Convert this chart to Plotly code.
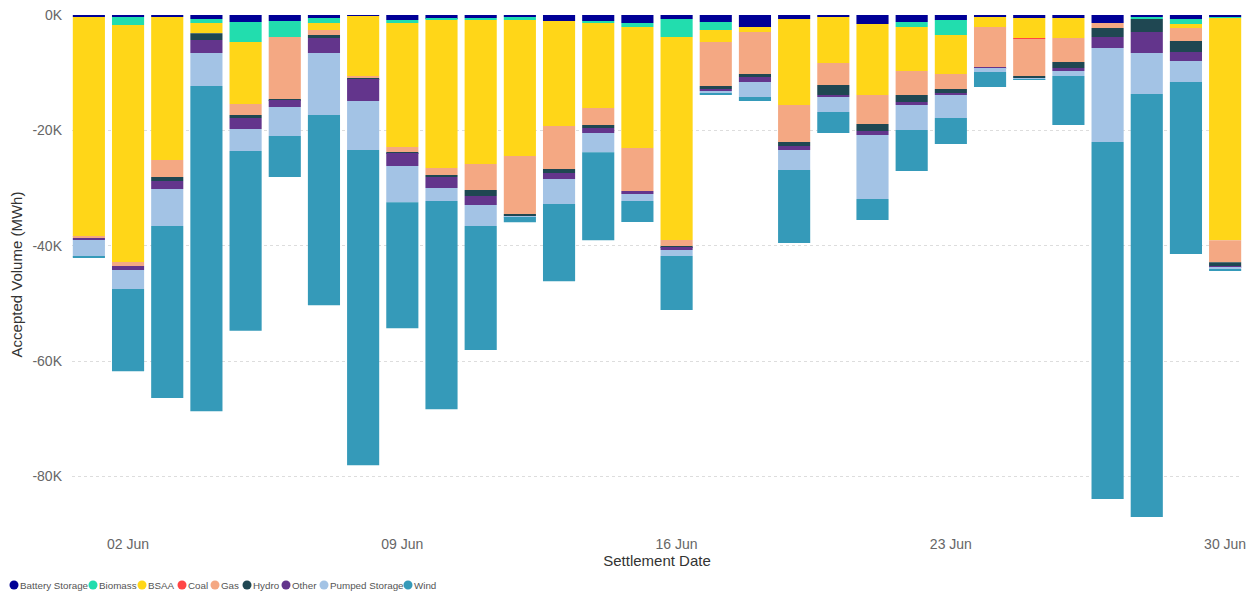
import plotly.graph_objects as go

dates = [f"2024-06-{d:02d}" for d in range(1, 31)]

battery_storage = [-350, -350, -350, -690, -1210, -1040, -520, -170, -870, -690,
                   -520, -350, -1040, -1040, -1390, -690, -1210, -2080, -690, -350,
                   -1560, -1210, -870, -350, -520, -520, -1390, -350, -690, -350]
biomass = [0, -1390, 0, -690, -3470, -2780, -870, 0, -520, -170,
           -350, -520, 0, -350, -690, -3120, -1390, 0, 0, 0,
           0, -870, -2600, 0, 0, 0, 0, -350, -870, -170]
bsaa = [-38100, -41100, -24800, -1790, -10760, 0, -1210, -10410, -21510, -25680,
        -24980, -23600, -18220, -14750, -20990, -35220, -2080, -870, -14920, -7980,
        -12320, -7630, -6770, -1740, -3470, -3470, 0, 0, -690, -38520]
coal = [0, 0, 0, 0, 0, 0, 0, 0, 0, 0,
        0, 0, 0, 0, 0, 0, 0, 0, 0, 0,
        0, 0, 0, 0, -170, 0, 0, 0, 0, 0]
gas = [-230, -690, -2950, 0, -1910, -10760, -870, -350, -870, -1210,
       -4510, -10060, -7460, -2950, -7460, -1040, -7630, -7290, -6420, -3820,
       -5030, -4160, -2600, -6940, -6420, -4160, -870, 0, -2260, -3820]
hydro = [0, 0, -700, -1160, -520, -170, -520, -170, -170, -350,
         -1040, -350, -690, -520, 0, -170, -520, -520, -690, -1740,
         -1210, -1210, -690, 0, -350, -1040, -1560, -2260, -1910, -690]
other = [-350, -700, -1390, -2260, -1910, -1210, -2600, -3820, -2260, -1910,
         -1560, 0, -1040, -870, -520, -520, -350, -870, -690, -350,
         -690, -520, -350, -170, 0, -520, -1910, -3640, -1560, -170]
pumped_storage = [-2900, -3300, -6420, -5730, -3820, -5030, -10760, -8500, -6250, -2260,
                  -3640, -170, -4340, -3300, -1210, -1040, -350, -2600, -3470, -2600,
                  -11100, -4340, -3990, -690, -170, -870, -16310, -7110, -3640, -350]
wind = [-170, -14230, -29790, -56390, -31170, -7110, -32970, -54650, -21860, -36090,
        -21510, -870, -13360, -15270, -3640, -9370, -350, -690, -12670, -3640,
        -3640, -7110, -4510, -2600, -170, -8500, -61880, -73330, -29840, -170]

series = [
    ("Battery Storage", battery_storage, "#000096"),
    ("Biomass", biomass, "#22DDAE"),
    ("BSAA", bsaa, "#FFD618"),
    ("Coal", coal, "#FF4545"),
    ("Gas", gas, "#F4A883"),
    ("Hydro", hydro, "#1F4752"),
    ("Other", other, "#63358C"),
    ("Pumped Storage", pumped_storage, "#A3C3E5"),
    ("Wind", wind, "#359AB9"),
]

tick_vals = [0, -20000, -40000, -60000, -80000]
tick_text = ["0K", "-20K", "-40K", "-60K", "-80K"]

# legend layout (pixel offsets of each swatch from the figure's left edge)
legend_px = [6, 85, 134, 174, 207, 239, 278, 316, 400]

W, H = 1247, 585
ML, MR, MT, MB = 64, 13, 7, 59
plot_w = W - ML - MR
plot_h = H - MT - MB

fig = go.Figure()
for name, vals, color in series:
    fig.add_trace(go.Bar(x=dates, y=vals, name=name, marker_color=color,
                         marker_line_width=0, showlegend=False))

# compact legend: circular swatches + labels
leg_y = (plot_h + MT - (H - 8)) / plot_h  # paper y of legend row
for (name, _, color), px in zip(series, legend_px):
    xp = (px - ML) / plot_w
    fig.add_shape(type="circle", xref="paper", yref="paper",
                  xsizemode="pixel", ysizemode="pixel",
                  xanchor=xp, yanchor=leg_y, x0=-4.5, x1=4.5, y0=-4.5, y1=4.5,
                  fillcolor=color, line_width=0)
    fig.add_annotation(text=name, xref="paper", yref="paper",
                       x=(px + 4.5 - ML) / plot_w, y=leg_y,
                       xanchor="left", yanchor="middle", showarrow=False,
                       xshift=0, borderpad=0,
                       font=dict(size=9.8, color="#555555"))

font_family = "Liberation Sans, Arial, sans-serif"
fig.update_layout(
    barmode="relative",
    bargap=0.18,
    width=W, height=H,
    margin=dict(l=ML, r=MR, t=MT, b=MB, autoexpand=False),
    plot_bgcolor="white", paper_bgcolor="white",
    font=dict(family=font_family, color="#666666"),
    showlegend=False,
    xaxis=dict(
        type="date",
        range=["2024-05-31T13:40", "2024-06-30T10:20"],
        tick0="2024-06-02", dtick=7 * 86400000, tickformat="%d %b",
        showgrid=False, zeroline=False, showline=False, ticks="",
        ticklabeloverflow="allow",
        tickfont=dict(size=14, color="#666666"),
        title=dict(text="Settlement Date", font=dict(size=15, color="#333333"), standoff=2),
    ),
    yaxis=dict(
        range=[-90000, 0],
        tickvals=tick_vals, ticktext=tick_text,
        showgrid=True, gridcolor="#dddddd", griddash="dot", gridwidth=1,
        zeroline=False, showline=False, ticks="", ticklabelstandoff=9,
        ticklabeloverflow="allow",
        tickfont=dict(size=14, color="#666666"),
        title=dict(text="Accepted Volume (MWh)", font=dict(size=15, color="#333333"), standoff=9),
    ),
)

fig.write_html("out.html")
